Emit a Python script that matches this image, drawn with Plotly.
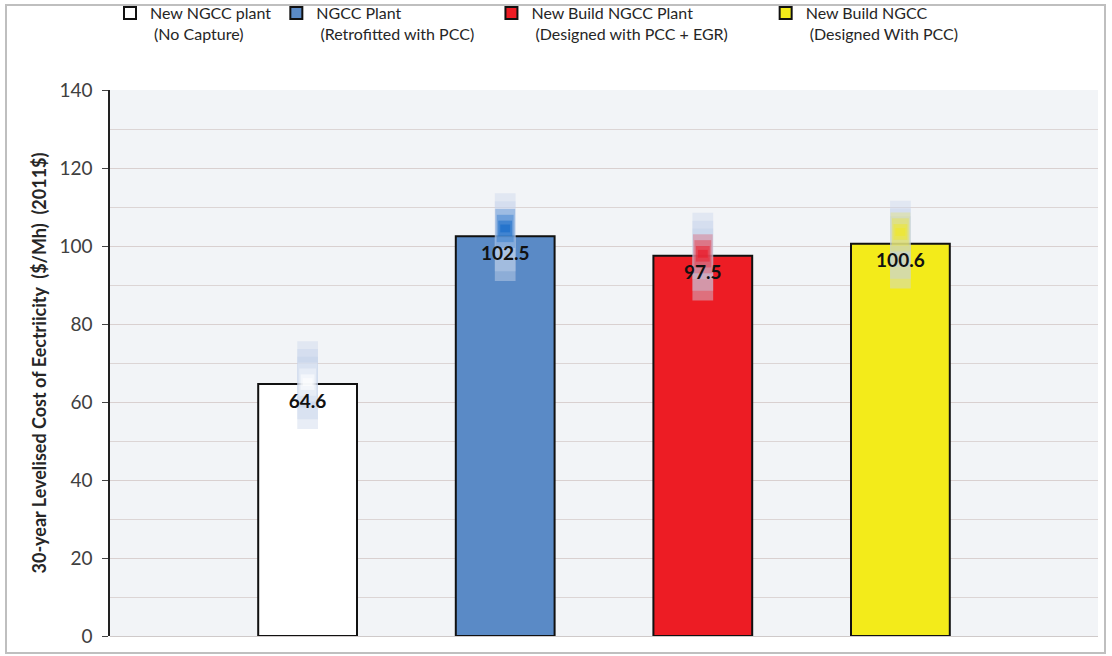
import plotly.graph_objects as go

categories = ["New NGCC plant",
              "NGCC Plant",
              "New Build NGCC Plant",
              "New Build NGCC"]
legend_names = ["New NGCC plant<br>&nbsp;(No Capture)",
                "NGCC Plant<br>&nbsp;(Retrofitted with PCC)&nbsp;&nbsp;&nbsp;",
                "New Build NGCC Plant<br>&nbsp;(Designed with PCC + EGR)&nbsp;&nbsp;&nbsp;&nbsp;&nbsp;&nbsp;&nbsp;&nbsp;",
                "New Build NGCC<br>&nbsp;(Designed With PCC)"]
values = [64.6, 102.5, 97.5, 100.6]
labels = ["64.6", "102.5", "97.5", "100.6"]
colors = ["#ffffff", "#5a8ac6", "#ed1c24", "#f3eb1a"]
glow_rgb = ["255,255,255", "20,105,200", "235,25,40", "240,232,40"]
glow_offset = [0.5, 2.0, 0.5, 3.0]
y_ticks = [0, 20, 40, 60, 80, 100, 120, 140]

W, H = 1112, 656
L, R, T, B = 110, 14, 90, 20
pw = W - L - R
ph = H - T - B

fig = go.Figure()
for cat, name, v, col in zip(categories, legend_names, values, colors):
    fig.add_trace(go.Bar(
        x=[cat], y=[v], name=name, width=0.5,
        marker=dict(color=col, line=dict(color="#111111", width=2)),
        hoverinfo="skip",
    ))

# soft glow blobs behind the value labels (layered bars approximating blur)
glow_layers = [
    (-11.5, 11.0, "rgba(205,216,236,0.45)", 0.105),
    (-9.0, 9.0, "rgba(196,210,234,0.4)", 0.105),
    (-6.0, 7.0, "rgba(190,205,232,0.35)", 0.105),
]
for i, (cat, v, rgb, off) in enumerate(zip(categories, values, glow_rgb, glow_offset)):
    for lo, hi, fill, w in glow_layers:
        fig.add_trace(go.Bar(x=[cat], y=[hi - lo], base=[v + lo], width=w,
                             marker=dict(color=fill, line=dict(width=0)),
                             showlegend=False, hoverinfo="skip"))
    for half, a, w in [(5.0, 0.25, 0.1), (3.5, 0.35, 0.085), (2.0, 0.5, 0.07), (1.0, 0.6, 0.05)]:
        fig.add_trace(go.Bar(x=[cat], y=[2 * half], base=[v + off - half], width=w,
                             marker=dict(color=f"rgba({rgb},{a})", line=dict(width=0)),
                             showlegend=False, hoverinfo="skip"))

fig.add_trace(go.Scatter(
    x=categories, y=[v - 4.8 for v in values], text=labels, mode="text",
    textposition="middle center", showlegend=False, hoverinfo="skip",
    textfont=dict(family="Lato, sans-serif", size=19, color="#111111", weight="bold"),
    cliponaxis=False,
))

shapes = [dict(type="rect", xref="paper", yref="paper",
               x0=(6 - L) / pw, x1=(1105 - L) / pw,
               y0=(H - B - 653) / ph, y1=(H - B - 5) / ph,
               line=dict(color="#bfbfbf", width=2), fillcolor="rgba(0,0,0,0)",
               layer="below")]

fig.update_layout(
    width=W, height=H,
    margin=dict(l=L, r=R, t=T, b=B, autoexpand=False),
    paper_bgcolor="white",
    plot_bgcolor="#f2f4f7",
    barmode="overlay",
    font=dict(family="Lato, sans-serif", color="#404040"),
    legend=dict(
        orientation="h", x=(110 - L) / pw, xanchor="left", y=1 + (T + 4) / ph,
        yanchor="top", valign="top", itemwidth=30,
        font=dict(family="Lato, sans-serif", size=16, color="#262626"),
        bgcolor="rgba(0,0,0,0)", tracegroupgap=0,
    ),
    xaxis=dict(
        categoryorder="array", categoryarray=categories,
        range=[-1, 4], showticklabels=False, showgrid=False,
        zeroline=False, showline=False, ticks="",
    ),
    yaxis=dict(
        range=[0, 140], tickvals=y_ticks, ticktext=[str(t) for t in y_ticks],
        showgrid=True, gridcolor="#d9d0d0", gridwidth=1,
        minor=dict(dtick=10, showgrid=True, gridcolor="#dcd5d5", gridwidth=1),
        showline=True, linecolor="#222222", linewidth=1.5,
        ticks="outside", ticklen=6, tickcolor="#444444",
        ticklabelstandoff=6,
        tickfont=dict(family="Lato, sans-serif", size=19, color="#404040"),
        zeroline=True, zerolinecolor="#cfcaca", zerolinewidth=1,
        title=dict(text="30-year Levelised Cost of Eectriicity  ($/Mh)  (2011$)",
                   font=dict(family="Lato, sans-serif", size=18, color="#262626", weight="bold"),
                   standoff=8),
    ),
    shapes=shapes,
)

fig.write_html("out.html")
